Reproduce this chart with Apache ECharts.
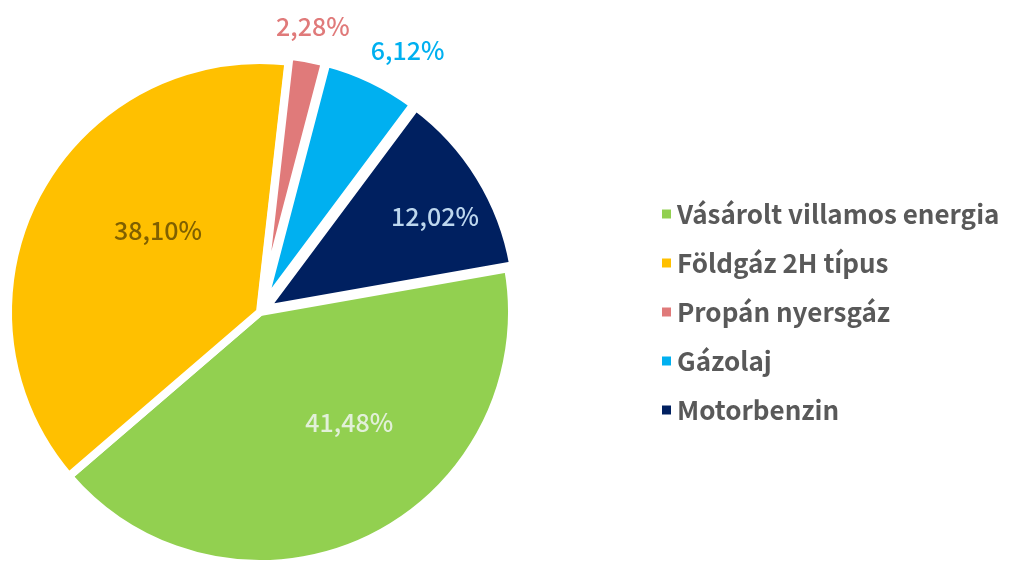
<!DOCTYPE html>
<html>
<head>
<meta charset="utf-8">
<script src="https://cdn.jsdelivr.net/npm/echarts@6/dist/echarts.min.js"></script>
<style>
html, body { margin: 0; padding: 0; background: #fff; }
#pie { width: 1009px; height: 561px; }
</style>
</head>
<body>
<div id="pie"></div>
<script>
const names = ['Vásárolt villamos energia', 'Földgáz 2H típus', 'Propán nyersgáz', 'Gázolaj', 'Motorbenzin']
const values = [41.48, 38.10, 2.28, 6.12, 12.02]
const colors = ['#92D050', '#FFC000', '#E07A7A', '#00B0F0', '#002060']
const labelColors = ['#E2F0D9', '#7F6000', '#E07A7A', '#00B0F0', '#BDD7EE']
// kiemelt (kihúzott) szeletek
const exploded = [false, false, true, true, true]
// címkék eltolása a szelet közepéhez képest
const labelNudge = [[34, -6], [12, -21], [28, -153], [89, -140], [60, -25]]

const font = '"Noto Sans CJK JP", "Noto Sans", sans-serif'

const chart = echarts.init(document.getElementById('pie'))

const seriesData = names.map((n, i) => {
  const lbl = { color: labelColors[i], offset: labelNudge[i] }
  return {
    name: n,
    value: values[i],
    selected: exploded[i],
    itemStyle: { color: colors[i] },
    label: lbl,
    select: { label: lbl, itemStyle: { color: colors[i] } }
  }
})

chart.setOption({
  backgroundColor: '#fff',
  animation: false,
  color: colors,
  legend: {
    orient: 'vertical',
    left: 655,
    top: 196,
    itemWidth: 11,
    itemHeight: 11,
    itemGap: 23,
    icon: 'rect',
    selectedMode: false,
    textStyle: {
      fontFamily: font,
      fontSize: 26,
      fontWeight: 'bold',
      color: '#595959',
      lineHeight: 26,
      padding: [0, 0, 0, 0]
    },
    data: names
  },
  series: [{
    type: 'pie',
    center: [260, 312],
    radius: [0, 252],
    startAngle: 10,
    clockwise: true,
    selectedMode: 'multiple',
    selectedOffset: 6,
    avoidLabelOverlap: false,
    itemStyle: {
      borderColor: '#fff',
      borderWidth: 8
    },
    emphasis: { disabled: true },
    label: {
      show: true,
      position: 'inside',
      fontFamily: font,
      fontSize: 25,
      fontWeight: 500,
      formatter: p => p.value.toFixed(2).replace('.', ',') + '%'
    },
    labelLine: { show: false },
    data: seriesData
  }]
})
</script>
</body>
</html>
